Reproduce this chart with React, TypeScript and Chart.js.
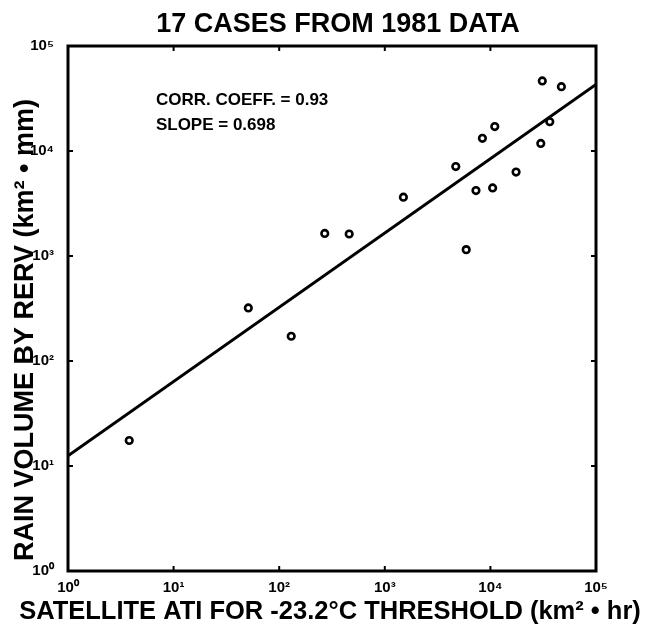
import React, { useEffect, useRef } from "react";
import { Chart, registerables } from "chart.js";

Chart.register(...registerables);

const TITLE = "17 CASES FROM 1981 DATA";
const X_TITLE = "SATELLITE ATI FOR -23.2°C THRESHOLD (km² • hr)";
const Y_TITLE = "RAIN VOLUME BY RERV (km² • mm)";
const NOTES = ["CORR. COEFF. = 0.93", "SLOPE = 0.698"];
const NOTE_X = 6.8;
const NOTE_Y = [27400, 15850];

const TICK_VALUES = [1, 10, 100, 1000, 10000, 100000];
const TICK_LABELS = ["10⁰", "10¹", "10²", "10³", "10⁴", "10⁵"];

// satellite ATI (km² · hr)
const ATI = [3.8, 51, 130, 270, 460, 1500, 4700, 5900, 7300, 8400, 10500, 11000, 17500, 30000, 31000, 36500, 47000];
// rain volume by RERV (km² · mm)
const RAIN = [17.5, 320, 172, 1640, 1620, 3630, 7100, 1150, 4200, 13200, 4450, 17100, 6300, 11800, 46500, 19000, 41000];

// regression line end points
const FIT_X = [1, 100000];
const FIT_Y = [12.5, 43000];

const FONT = '"Liberation Sans", Arial, Helvetica, sans-serif';

const decor = {
  id: "decor",
  afterDraw(chart: any) {
    const { ctx, chartArea: a, scales } = chart;
    ctx.save();
    ctx.strokeStyle = "#000";
    ctx.lineWidth = 3;
    ctx.strokeRect(a.left, a.top, a.right - a.left, a.bottom - a.top);
    ctx.lineWidth = 2;
    ctx.beginPath();
    for (const v of TICK_VALUES) {
      const px = scales.x.getPixelForValue(v);
      ctx.moveTo(px, a.bottom);
      ctx.lineTo(px, a.bottom - 5);
      ctx.moveTo(px, a.top);
      ctx.lineTo(px, a.top + 5);
      const py = scales.y.getPixelForValue(v);
      ctx.moveTo(a.left, py);
      ctx.lineTo(a.left + 5, py);
      ctx.moveTo(a.right, py);
      ctx.lineTo(a.right - 5, py);
    }
    ctx.stroke();

    ctx.fillStyle = "#000";
    ctx.textBaseline = "alphabetic";
    ctx.textAlign = "center";
    ctx.font = `bold 27px ${FONT}`;
    ctx.fillText(TITLE, 338, 32);
    ctx.font = `bold 25.5px ${FONT}`;
    ctx.fillText(X_TITLE, 330, 619);
    ctx.save();
    ctx.translate(33, 330);
    ctx.rotate(-Math.PI / 2);
    ctx.font = `bold 27px ${FONT}`;
    ctx.fillText(Y_TITLE, 0, 0);
    ctx.restore();

    ctx.textAlign = "left";
    ctx.font = `bold 17px ${FONT}`;
    NOTES.forEach((t, i) => {
      ctx.fillText(t, scales.x.getPixelForValue(NOTE_X), scales.y.getPixelForValue(NOTE_Y[i]));
    });
    ctx.restore();
  },
};

function logAxis(extra: any) {
  return {
    type: "logarithmic",
    min: 1,
    max: 100000,
    afterBuildTicks: (s: any) => {
      s.ticks = TICK_VALUES.map((v) => ({ value: v }));
    },
    grid: { display: false, drawTicks: false },
    border: { display: false },
    ticks: {
      autoSkip: false,
      maxRotation: 0,
      color: "#000",
      font: { family: FONT, size: 15, weight: "bold" },
      callback: (v: any) => {
        const i = TICK_VALUES.indexOf(Number(v));
        return i >= 0 ? TICK_LABELS[i] : "";
      },
      ...extra.ticks,
    },
    afterFit: extra.afterFit,
  };
}

export default function App() {
  const ref = useRef<HTMLCanvasElement>(null);
  useEffect(() => {
    if (!ref.current) return;
    const chart = new Chart(ref.current, {
      type: "scatter",
      data: {
        datasets: [
          {
            data: ATI.map((x, i) => ({ x, y: RAIN[i] })),
            pointStyle: "circle",
            pointRadius: 3.3,
            pointBorderWidth: 2.6,
            pointBorderColor: "#000",
            pointBackgroundColor: "#fff",
            showLine: false,
          },
          {
            data: FIT_X.map((x, i) => ({ x, y: FIT_Y[i] })),
            showLine: true,
            borderColor: "#000",
            borderWidth: 3,
            pointRadius: 0,
          },
        ],
      } as any,
      options: {
        animation: false,
        responsive: false,
        devicePixelRatio: 1,
        layout: { padding: { left: 0, top: 46, right: 52, bottom: 0 } },
        plugins: { legend: { display: false }, tooltip: { enabled: false }, title: { display: false } },
        scales: {
          x: logAxis({
            ticks: { padding: 8 },
            afterFit: (s: any) => {
              s.height = 57;
            },
          }),
          y: logAxis({
            ticks: { padding: 14 },
            afterFit: (s: any) => {
              s.width = 68;
            },
          }),
        } as any,
      },
      plugins: [decor],
    });
    return () => chart.destroy();
  }, []);
  return (
    <div style={{ position: "absolute", left: 0, top: 0, width: 648, height: 628, background: "#fff" }}>
      <canvas ref={ref} width={648} height={628} />
    </div>
  );
}
